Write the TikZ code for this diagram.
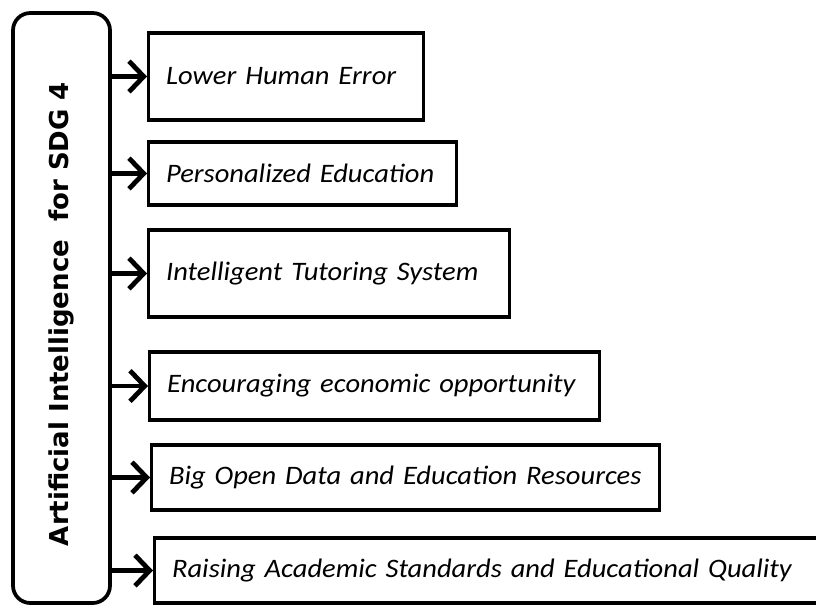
\documentclass[tikz,border=0pt]{standalone}
\usepackage{fontspec}
\usepackage{tikz}
\usetikzlibrary{arrows.meta,positioning}
\newfontfamily\itemfont[FakeStretch=1.07]{Carlito}
\newfontfamily\framefont{DejaVu Sans}
\tikzset{
    >={Straight Barb[length=11pt, width=23pt, line width=3.6pt]},
    goal/.style={rectangle, draw, line width=2.6pt, anchor=west, inner xsep=13pt, inner ysep=0pt, align=left, font=\itemfont\itshape\fontsize{20}{23}\selectfont},
    frame/.style={rectangle, rounded corners=13pt, draw, line width=2.8pt, minimum width=72.75pt, minimum height=442.5pt, inner sep=0pt},
    link/.style={->, line width=3.6pt}
}
\begin{document}
\begin{tikzpicture}[x=0.75pt, y=-0.75pt]
    \clip (0,0) rectangle (816,606);
    \fill[white] (0,0) rectangle (816,606);
    \node[frame] (sdg) at (61.5,308) {};
    \node[rotate=90, font=\framefont\bfseries\fontsize{19.5}{22}\selectfont] (sdgtext) at (61.5,314) {Artificial Intelligence\ \ for SDG 4};
    \node[goal, text width=180.25pt, minimum height=65.25pt] (error) at (147,76.5) {Lower Human Error};
    \node[goal, text width=205pt, minimum height=47.25pt] (personal) at (147,173.5) {Personalized Education};
    \node[goal, text width=244.75pt, minimum height=65.25pt] (tutor) at (147,273.5) {Intelligent Tutoring System};
    \node[goal, text width=311.5pt, minimum height=51pt] (economic) at (148,386) {Encouraging economic opportunity};
    \node[goal, text width=355pt, minimum height=48.75pt] (opendata) at (150,477.5) {Big Open Data and Education Resources};
    \node[goal, text width=481.75pt, minimum height=48.75pt] (quality) at (153,570.5) {Raising Academic Standards and Educational Quality};
    \foreach \g in {error,personal,tutor,economic,opendata,quality}
        \draw[link] (\g.west -| sdg.east) -- (\g.west);
\end{tikzpicture}
\end{document}
